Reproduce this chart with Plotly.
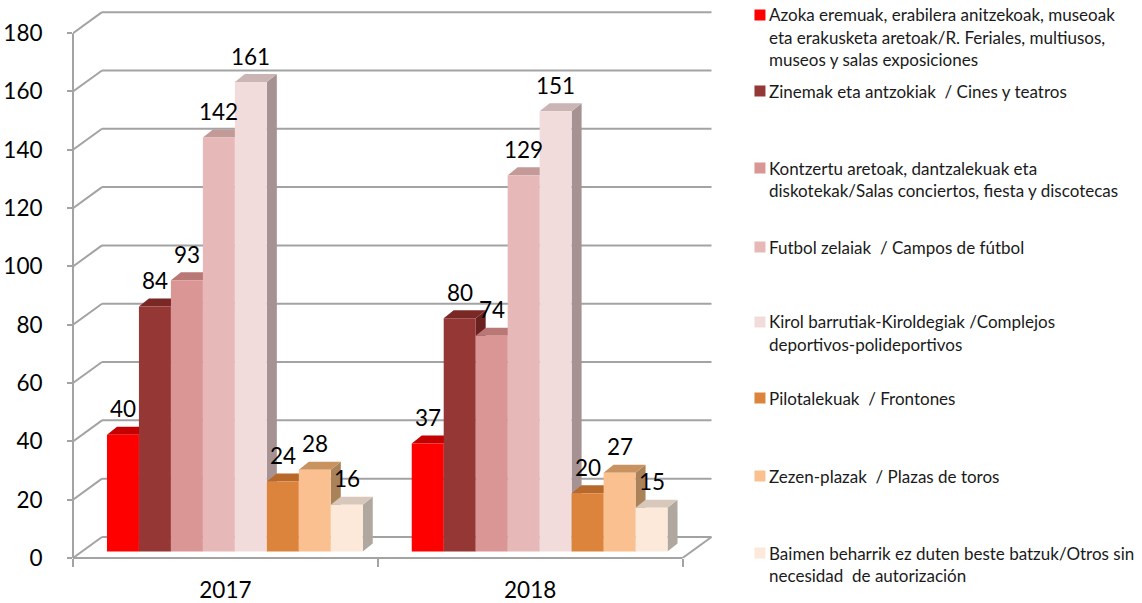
import plotly.graph_objects as go

# ---- data -------------------------------------------------------------
years = ["2017", "2018"]
series_names = [
    "Azoka eremuak, erabilera anitzekoak, museoak<br>eta erakusketa aretoak/R. Feriales, multiusos,<br>museos y salas exposiciones",
    "Zinemak eta antzokiak  / Cines y teatros",
    "Kontzertu aretoak, dantzalekuak eta<br>diskotekak/Salas conciertos, fiesta y discotecas",
    "Futbol zelaiak  / Campos de fútbol",
    "Kirol barrutiak-Kiroldegiak /Complejos<br>deportivos-polideportivos",
    "Pilotalekuak  / Frontones",
    "Zezen-plazak  / Plazas de toros",
    "Baimen beharrik ez duten beste batzuk/Otros sin<br>necesidad  de autorización",
]
azoka = [40, 37]
zinemak = [84, 80]
kontzertu = [93, 74]
futbol = [142, 129]
kirol = [161, 151]
pilotalekuak = [24, 20]
zezen_plazak = [28, 27]
besteak = [16, 15]
series_values = [azoka, zinemak, kontzertu, futbol, kirol, pilotalekuak, zezen_plazak, besteak]
y_tick_values = [0, 20, 40, 60, 80, 100, 120, 140, 160, 180]

# ---- styling: front / top / side face colours per series ---------------
front_colors = ["#FF0000", "#953735", "#D99694", "#E6B9B8", "#F2DCDB", "#DC843C", "#FAC090", "#FDE9D9"]
top_colors = ["#C40000", "#7A2826", "#B97876", "#C49A99", "#CBB4B4", "#B8682A", "#C8935F", "#D8C8BC"]
side_colors = ["#A00000", "#6A2220", "#9E6462", "#A88484", "#A69292", "#9A5620", "#A9825A", "#B0A89F"]

GRID = "#A3A3A3"
FONT = "Lato"

# ---- geometry (pixels) ------------------------------------------------
W, H = 1142, 603
PL, PB, PT = 73, 558, 4          # plot area left / bottom / top
X_RANGE = [-0.5, 1.6]
Y_RANGE = [0, 190]
PX_X = 305.0                     # pixels per category unit
plot_w = (X_RANGE[1] - X_RANGE[0]) * PX_X
plot_h = PB - PT
PX_Y = plot_h / (Y_RANGE[1] - Y_RANGE[0])

WALL_DX, WALL_DY = 29, 21        # depth of the floor / walls
BAR_DX, BAR_DY = 10, 8           # depth of each bar
SHIFT_X = (WALL_DX - BAR_DX) / 2 # bars sit in the middle of the floor depth
SHIFT_Y = (WALL_DY - BAR_DY) / 2
BAR_W = 32 / PX_X

wdx, wdy = WALL_DX / PX_X, WALL_DY / PX_Y
bdx, bdy = BAR_DX / PX_X, BAR_DY / PX_Y


def paper_x(px):
    return (px - PL) / plot_w


def paper_y(py):
    return (PB - py) / plot_h


fig = go.Figure()
shapes = []
annotations = []

# back wall grid + side wall diagonals
for v in y_tick_values:
    shapes.append(dict(type="line", xref="x", yref="y", layer="below",
                       x0=-0.5, y0=v, x1=-0.5 + wdx, y1=v + wdy,
                       line=dict(color=GRID, width=2)))
    shapes.append(dict(type="line", xref="x", yref="y", layer="below",
                       x0=-0.5 + wdx, y0=v + wdy, x1=1.5 + wdx, y1=v + wdy,
                       line=dict(color=GRID, width=2)))
# right edge of the floor
shapes.append(dict(type="line", xref="x", yref="y", layer="below",
                   x0=1.5, y0=0, x1=1.5 + wdx, y1=wdy,
                   line=dict(color=GRID, width=2)))
# front axis lines
shapes.append(dict(type="line", xref="paper", yref="paper", layer="above",
                   x0=0, y0=0, x1=0, y1=(180 - Y_RANGE[0]) / (Y_RANGE[1] - Y_RANGE[0]),
                   line=dict(color=GRID, width=2)))
shapes.append(dict(type="line", xref="paper", yref="paper", layer="above",
                   x0=0, y0=0, x1=(1.5 - X_RANGE[0]) / (X_RANGE[1] - X_RANGE[0]), y1=0,
                   line=dict(color=GRID, width=2)))

# bars: front faces as bar traces, top and side faces as shapes
n = len(series_values)
group_left = -n * BAR_W / 2
for i, vals in enumerate(series_values):
    off = group_left + i * BAR_W
    fig.add_trace(go.Bar(
        x=[0, 1], y=vals, offset=off, width=BAR_W,
        xaxis="x2", yaxis="y2",
        marker=dict(color=front_colors[i], line=dict(width=0)),
        name=series_names[i], showlegend=False, hoverinfo="y",
    ))
    for c, h in enumerate(vals):
        x0 = c + off
        x1 = x0 + BAR_W
        side = (f"M {x1},0 L {x1},{h} L {x1 + bdx},{h + bdy} "
                f"L {x1 + bdx},{bdy} Z")
        top = (f"M {x0},{h} L {x1},{h} L {x1 + bdx},{h + bdy} "
               f"L {x0 + bdx},{h + bdy} Z")
        shapes.append(dict(type="path", path=side, xref="x2", yref="y2",
                           layer="below", fillcolor=side_colors[i],
                           line=dict(width=0)))
        shapes.append(dict(type="path", path=top, xref="x2", yref="y2",
                           layer="below", fillcolor=top_colors[i],
                           line=dict(width=0)))
        annotations.append(dict(
            x=(x0 + x1) / 2, y=h, xref="x2", yref="y2",
            text=str(h), showarrow=False, yanchor="middle", yshift=26,
            font=dict(family=FONT, size=22.5, color="#000000"),
        ))

# legend drawn beside the plot
legend_first_line = [15, 91, 168, 247, 322, 398, 476, 553]
LINE_STEP = 22.5
for i, name in enumerate(series_names):
    yc = legend_first_line[i]
    shapes.append(dict(type="rect", xref="paper", yref="paper", layer="above",
                       x0=paper_x(755), x1=paper_x(766),
                       y0=paper_y(yc - 5.5), y1=paper_y(yc + 5.5),
                       fillcolor=front_colors[i], line=dict(width=0)))
    for k, line in enumerate(name.split("<br>")):
        annotations.append(dict(
            x=paper_x(768), y=paper_y(yc + k * LINE_STEP),
            xref="paper", yref="paper", text=line, showarrow=False,
            xanchor="left", yanchor="middle", align="left",
            font=dict(family=FONT, size=17, color="#1A1A1A"),
        ))

fig.update_layout(
    width=W, height=H,
    margin=dict(l=PL, r=W - PL - plot_w, t=PT, b=H - PB),
    plot_bgcolor="white", paper_bgcolor="white",
    barmode="overlay",
    showlegend=False,
    shapes=shapes,
    annotations=annotations,
    xaxis=dict(
        range=X_RANGE, tickmode="array", tickvals=[0, 1], ticktext=years,
        ticks="", showgrid=False, zeroline=False, showline=False,
        automargin=False,
        tickfont=dict(family=FONT, size=22.5, color="#000000"),
        ticklabelstandoff=16,
        minor=dict(tickmode="array", tickvals=[-0.5, 0.5, 1.5], ticks="outside",
                   ticklen=8, tickwidth=2, tickcolor=GRID, showgrid=False),
    ),
    yaxis=dict(
        range=Y_RANGE, tickmode="array", tickvals=y_tick_values,
        ticks="outside", ticklen=5, tickwidth=2, tickcolor=GRID,
        showgrid=False, zeroline=False, showline=False,
        automargin=False,
        tickfont=dict(family=FONT, size=22.5, color="#000000"),
        ticklabelstandoff=20,
    ),
    xaxis2=dict(overlaying="x", range=[X_RANGE[0] - SHIFT_X / PX_X, X_RANGE[1] - SHIFT_X / PX_X],
                visible=False),
    yaxis2=dict(overlaying="y", range=[Y_RANGE[0] - SHIFT_Y / PX_Y, Y_RANGE[1] - SHIFT_Y / PX_Y],
                visible=False),
)

fig.write_html("out.html")
